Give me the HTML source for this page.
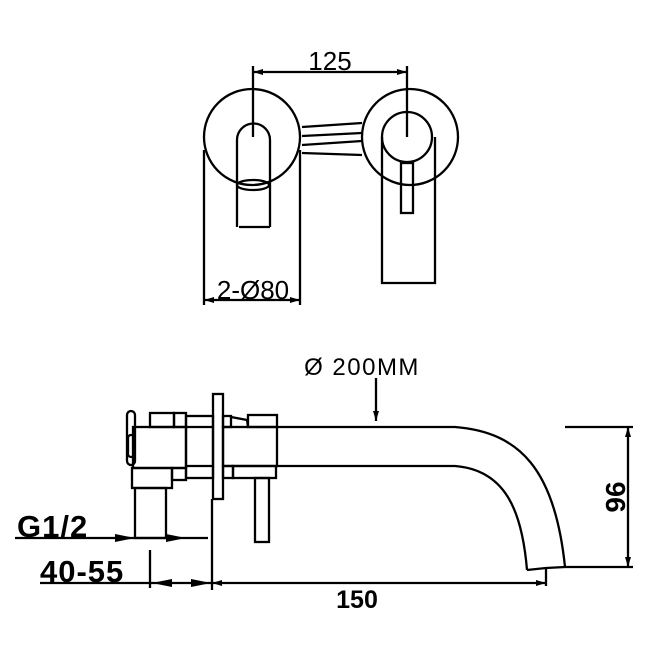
<!DOCTYPE html>
<html><head><style>html,body{margin:0;padding:0;background:#fff}svg{display:block}</style></head>
<body>
<svg width="650" height="650" viewBox="0 0 650 650" xmlns="http://www.w3.org/2000/svg" font-family="Liberation Sans, sans-serif">
<defs>
<marker id="a" viewBox="0 0 10 6" refX="10" refY="3" markerWidth="12" markerHeight="6" orient="auto-start-reverse" markerUnits="userSpaceOnUse"><path d="M0,0 L10,3 L0,6 Z" fill="#000"/></marker>
</defs>
<g fill="none" stroke="#000" stroke-width="2.3">
<circle cx="252" cy="137" r="48"/>
<circle cx="410" cy="137" r="48"/>
<line x1="253" y1="66" x2="253" y2="137"/>
<line x1="407" y1="66" x2="407" y2="137"/>
<line x1="253" y1="72" x2="407" y2="72" marker-start="url(#a)" marker-end="url(#a)"/>
<path d="M237,227 L237,140 A16.5,16.5 0 0 1 270,140 L270,227"/>
<line x1="239" y1="227" x2="270" y2="227"/>
<ellipse cx="253" cy="185" rx="16" ry="5"/>
<line x1="302" y1="127" x2="362" y2="123"/>
<line x1="302" y1="136" x2="362" y2="133"/>
<line x1="302" y1="145" x2="362" y2="141"/>
<line x1="302" y1="153" x2="362" y2="155"/>
<circle cx="407" cy="137" r="25"/>
<path d="M382,137 L382,283 L435,283 L435,137"/>
<rect x="401" y="163" width="12" height="50"/>
<line x1="204" y1="150" x2="204" y2="305"/>
<line x1="300" y1="150" x2="300" y2="305"/>
<line x1="204" y1="300" x2="300" y2="300" marker-start="url(#a)" marker-end="url(#a)"/>
<rect x="213" y="394" width="10" height="105"/>
<rect x="127" y="411" width="8" height="54" rx="4"/>
<rect x="133" y="427" width="53" height="41"/>
<rect x="150" y="413" width="24" height="14"/>
<rect x="174" y="413" width="12" height="14"/>
<rect x="186" y="416" width="27" height="62"/>
<line x1="186" y1="427" x2="213" y2="427"/>
<line x1="186" y1="466" x2="213" y2="466"/>
<rect x="132" y="468" width="40" height="20"/>
<rect x="172" y="468" width="14" height="12"/>
<rect x="128" y="435" width="6" height="22" rx="3"/>
<rect x="135" y="488" width="31" height="50"/>
<rect x="223" y="416" width="8" height="11"/>
<path d="M231,417 L247,420 L248,427"/>
<rect x="248" y="415" width="29" height="12"/>
<rect x="223" y="427" width="54" height="39"/>
<rect x="223" y="466" width="10" height="12"/>
<rect x="233" y="466" width="43" height="12"/>
<rect x="255" y="478" width="14" height="64"/>
<path d="M277,427 L455,427 C520,432 555,470 565,567"/>
<path d="M277,466 L455,466 C505,470 522,510 527,570"/>
<path d="M527,570 L546,568 L565,567"/>
<line x1="565" y1="427" x2="633" y2="427"/>
<line x1="565" y1="567" x2="633" y2="567"/>
<line x1="628" y1="427" x2="628" y2="567" marker-start="url(#a)" marker-end="url(#a)"/>
<line x1="376" y1="378" x2="376" y2="421" marker-end="url(#a)"/>
<line x1="15" y1="538" x2="208" y2="538"/>
<line x1="212" y1="499" x2="212" y2="590"/>
<line x1="150" y1="550" x2="150" y2="588"/>
<line x1="40" y1="583" x2="212" y2="583"/>
<line x1="212" y1="583" x2="546" y2="583" marker-start="url(#a)" marker-end="url(#a)"/>
<line x1="546" y1="568" x2="546" y2="586"/>
</g>
<g fill="#000" stroke="none">
<path d="M115,534 L135,538 L115,542Z"/><path d="M186,538 L166,534 L166,542Z"/>
<path d="M152,583 L172,579 L172,587Z"/><path d="M211,583 L191,579 L191,587Z"/>
</g>
<g fill="#000">
<text x="330" y="70" text-anchor="middle" font-size="26">125</text>
<text x="253" y="299" text-anchor="middle" font-size="26">2-Ø80</text>
<text x="362" y="375" text-anchor="middle" font-size="24" letter-spacing="1.5">Ø 200MM</text>
<text x="357" y="608" text-anchor="middle" font-size="25" font-weight="bold">150</text>
<text transform="translate(625,497) rotate(-90)" text-anchor="middle" font-size="28" font-weight="bold">96</text>
<text x="17" y="537" font-size="31" font-weight="bold" letter-spacing="1">G1/2</text>
<text x="40" y="582" font-size="31" font-weight="bold" letter-spacing="1">40-55</text>
</g>
</svg>
</body></html>
